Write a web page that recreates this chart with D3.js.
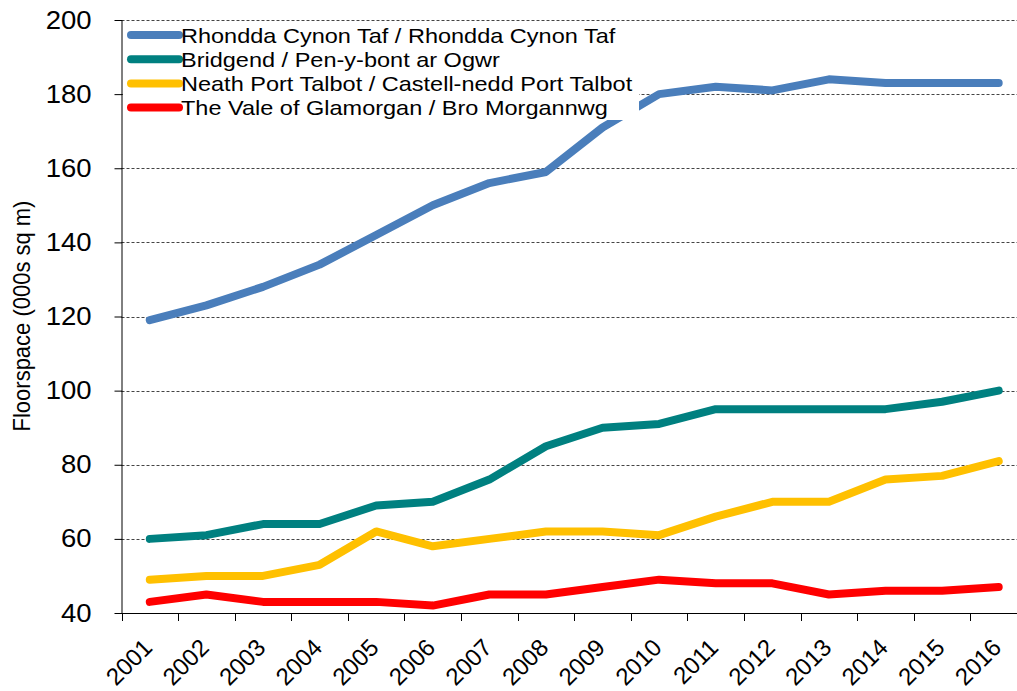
<!DOCTYPE html>
<html>
<head>
<meta charset="utf-8">
<script src="https://cdnjs.cloudflare.com/ajax/libs/d3/7.8.5/d3.min.js"></script>
<style>
  body { margin: 0; background: #fff; }
  svg { display: block; font-family: "Liberation Sans", Arial, sans-serif; }
</style>
</head>
<body>
<div class="output"><svg width="1017" height="691"></svg></div>
<script>
var years = ["2001", "2002", "2003", "2004", "2005", "2006", "2007", "2008",
             "2009", "2010", "2011", "2012", "2013", "2014", "2015", "2016"];

var yTicks = [40, 60, 80, 100, 120, 140, 160, 180, 200];

var names = ["Rhondda Cynon Taf / Rhondda Cynon Taf",
             "Bridgend / Pen-y-bont ar Ogwr",
             "Neath Port Talbot / Castell-nedd Port Talbot",
             "The Vale of Glamorgan / Bro Morgannwg"];

var colors = ["#4a7ebb", "#008080", "#ffc000", "#ff0000"];

var rhondda  = [119, 123, 128, 134, 142, 150, 156, 159, 171, 180, 182, 181, 184, 183, 183, 183];
var bridgend = [60, 61, 64, 64, 69, 70, 76, 85, 90, 91, 95, 95, 95, 95, 97, 100];
var neath    = [49, 50, 50, 53, 62, 58, 60, 62, 62, 61, 66, 70, 70, 76, 77, 81];
var vale     = [43, 45, 43, 43, 43, 42, 45, 45, 47, 49, 48, 48, 45, 46, 46, 47];

var series = [rhondda, bridgend, neath, vale];

var start = function()
{
  var svg = d3.select("div.output svg");

  // plot runs a little past the right edge, like the original crop
  var left = 121.5, right = 1027, top = 20, bottom = 613;

  var x = d3.scaleBand().domain(years).range([left, right]);
  var y = d3.scaleLinear().domain([40, 200]).range([bottom, top]);

  // gridlines
  svg.append("g").selectAll("line")
    .data(yTicks.slice(1))
    .enter().append("line")
    .attr("x1", left)
    .attr("x2", 1017)
    .attr("y1", function(d) { return Math.round(y(d)) + 0.5 })
    .attr("y2", function(d) { return Math.round(y(d)) + 0.5 })
    .style("stroke", "#444")
    .style("stroke-width", 1)
    .style("stroke-dasharray", "3,2");

  // y axis
  var yAxis = svg.append("g")
    .attr("transform", "translate(" + left + ",0)")
    .call(d3.axisLeft(y).tickValues(yTicks).tickSize(7));
  yAxis.select(".domain").attr("d", "M0.5," + top + "V" + bottom);
  yAxis.selectAll(".tick line").attr("x1", 0.5).attr("x2", -7);
  yAxis.selectAll("text")
    .style("font-size", "25px")
    .style("font-family", "Liberation Sans, Arial, sans-serif")
    .attr("x", 0)
    .attr("transform", "translate(-30,0) scale(1.1,1)")
    .attr("fill", "#000");

  // x axis: ticks between categories
  var bounds = years.map(function(d) { return x(d) });
  bounds.push(right);
  var xg = svg.append("g");
  xg.append("line")
    .attr("x1", left).attr("x2", 1017)
    .attr("y1", bottom + 0.5).attr("y2", bottom + 0.5)
    .style("stroke", "#000");
  xg.selectAll("line.tk")
    .data(bounds)
    .enter().append("line")
    .attr("class", "tk")
    .attr("x1", function(d) { return Math.round(d) + 0.5 })
    .attr("x2", function(d) { return Math.round(d) + 0.5 })
    .attr("y1", bottom)
    .attr("y2", bottom + 8)
    .style("stroke", "#000");
  xg.selectAll("text")
    .data(years)
    .enter().append("text")
    .text(function(d) { return d })
    .attr("transform", function(d) {
      return "translate(" + (x(d) + x.bandwidth() / 2 + 4) + "," + (bottom + 36) + ") rotate(-45)";
    })
    .attr("text-anchor", "end")
    .style("font-size", "24px")
    .style("fill", "#000");

  // y title
  svg.append("text")
    .text("Floorspace (000s sq m)")
    .attr("transform", "translate(30,316) rotate(-90) scale(1,1.08)")
    .attr("text-anchor", "middle")
    .style("font-size", "22px")
    .style("fill", "#000");

  // lines
  var line = d3.line()
    .x(function(d, i) { return x(years[i]) + x.bandwidth() / 2 })
    .y(function(d) { return y(d) });

  svg.append("g").selectAll("path")
    .data(series)
    .enter().append("path")
    .attr("d", line)
    .style("fill", "none")
    .style("stroke", function(d, i) { return colors[i] })
    .style("stroke-width", 8)
    .style("stroke-linecap", "round")
    .style("stroke-linejoin", "round");

  // legend
  var lg = svg.append("g");
  lg.append("rect")
    .attr("x", 123).attr("y", 22)
    .attr("width", 516).attr("height", 98)
    .style("fill", "#fff");

  var items = lg.selectAll("g.item")
    .data(names)
    .enter().append("g")
    .attr("class", "item")
    .attr("transform", function(d, i) { return "translate(0," + (35 + i * 24.2) + ")" });
  items.append("line")
    .attr("x1", 131).attr("x2", 179)
    .attr("y1", 0).attr("y2", 0)
    .style("stroke", function(d, i) { return colors[i] })
    .style("stroke-width", 8)
    .style("stroke-linecap", "round");
  items.append("text")
    .text(function(d) { return d })
    .attr("transform", "translate(181,7.5) scale(1.12,1)")
    .style("font-size", "21px")
    .style("fill", "#000");
}

start();
</script>
</body>
</html>
